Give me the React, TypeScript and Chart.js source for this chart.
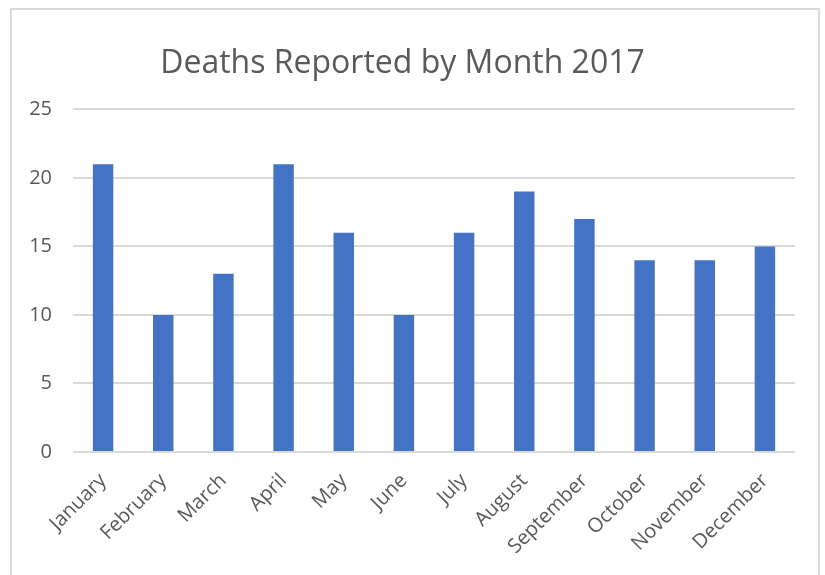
import React, { useEffect, useRef } from "react";
import { Chart, registerables } from "chart.js";

Chart.register(...registerables);

const months = ["January", "February", "March", "April", "May", "June", "July", "August", "September", "October", "November", "December"];
const deaths = [21, 10, 13, 21, 16, 10, 16, 19, 17, 14, 14, 15];
const titleText = "Deaths Reported by Month 2017";

export default function App() {
  const ref = useRef<HTMLCanvasElement | null>(null);
  useEffect(() => {
    if (!ref.current) return;
    const font = "'Open Sans', 'Noto Sans', sans-serif";
    const chart = new Chart(ref.current, {
      type: "bar",
      data: {
        labels: months,
        datasets: [{ data: deaths, backgroundColor: "#4472C4", categoryPercentage: 1, barPercentage: 0.34 }],
      },
      options: {
        animation: false,
        responsive: false,
        layout: { padding: { left: 10, right: 30, top: 0, bottom: 0 } },
        plugins: {
          legend: { display: false },
          tooltip: { enabled: false },
          title: {
            display: true,
            text: titleText,
            color: "#595959",
            font: { family: font, size: 32, weight: "normal", lineHeight: 1.2 },
            padding: { top: 45, bottom: 26 },
          },
        },
        scales: {
          x: {
            grid: { display: false, drawTicks: false },
            border: { display: false },
            ticks: { color: "#595959", font: { family: font, size: 20 }, maxRotation: 45, minRotation: 45, padding: 17 },
            afterFit: (s: any) => { s.height = 123; },
          },
          y: {
            min: 0,
            max: 25,
            ticks: { stepSize: 5, color: "#595959", font: { family: font, size: 20 }, padding: 21 },
            grid: { color: "#d9d9d9", lineWidth: 2, drawTicks: false },
            border: { display: false },
            afterFit: (s: any) => { s.width = 63; },
          },
        },
      },
    });
    return () => chart.destroy();
  }, []);
  return (
    <div style={{ position: "fixed", left: 0, top: 0, width: 825, height: 575, background: "#fff", overflow: "hidden" }}>
      <div style={{ position: "absolute", left: 10, top: 8, width: 806, height: 600, border: "2px solid #d9d9d9" }} />
      <canvas ref={ref} width={825} height={575} style={{ position: "absolute", left: 0, top: 0 }} />
    </div>
  );
}
